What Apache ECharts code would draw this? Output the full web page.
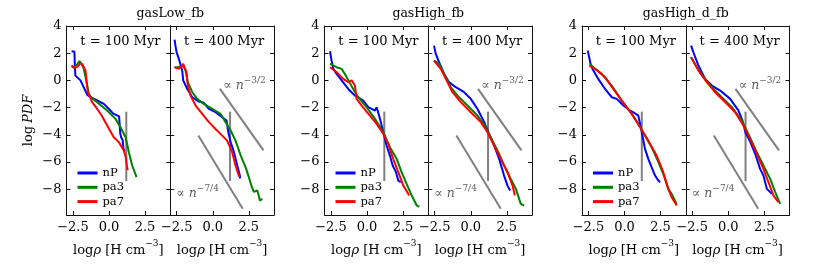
<!DOCTYPE html>
<html><head><meta charset="utf-8">
<script src="https://cdn.jsdelivr.net/npm/echarts@6/dist/echarts.min.js"></script>
<style>html,body{margin:0;padding:0;background:#fff}#c{width:831px;height:269px}</style>
</head><body><div id="c"></div>
<script>
const groupTitles = ['gasLow_fb', 'gasHigh_fb', 'gasHigh_d_fb'];
const panelTimes = ['t = 100 Myr', 't = 400 Myr'];
const seriesNames = ['nP', 'pa3', 'pa7'];
const xTicks = [-2.5, 0, 2.5];
const yTicks = [-8, -6, -4, -2, 0, 2, 4];

// gasLow_fb, t = 100 Myr
const p1_nP = [[-2.6,2.15],[-2.4,2.1],[-2.36,0.8],[-2.33,0.35],[-1.98,0],[-1.51,-1.07],[-1.28,-1.24],[-0.82,-1.48],[-0.36,-1.73],[0.1,-2.22],[0.3,-2.45],[0.7,-2.65],[0.78,-3.9],[0.85,-4.2],[0.95,-4.4],[1.0,-5.0],[1.08,-5.2]];
const p1_pa3 = [[-2.6,1.09],[-2.45,0.9],[-2.33,0.85],[-2.2,1.2],[-2.05,1.41],[-1.9,1.2],[-1.75,0.85],[-1.56,-0.13],[-1.4,-0.99],[-1.2,-1.3],[-0.82,-1.6],[-0.13,-2.22],[0.45,-2.83],[0.8,-3.44],[1.15,-4.18],[1.38,-5.28],[1.61,-6.26],[1.91,-7.12]];
const p1_pa7 = [[-2.6,1.09],[-2.4,0.95],[-2.21,0.97],[-2.0,1.25],[-1.86,1.21],[-1.63,0.72],[-1.47,-0.87],[-1.17,-1.6],[-0.82,-2.1],[-0.5,-2.6],[-0.13,-3.32],[0.33,-4.18],[0.68,-4.54],[1.03,-5.16],[1.15,-5.6],[1.26,-6.4],[1.3,-6.6]];
// gasLow_fb, t = 400 Myr
const p2_nP = [[-2.65,3.0],[-2.58,2.5],[-2.51,2.07],[-2.35,1.58],[-2.12,0.72],[-2.05,0],[-1.77,-0.63],[-1.42,-1.24],[-0.96,-1.56],[-0.62,-1.65],[-0.27,-2.1],[0.19,-2.34],[0.66,-2.71],[0.96,-2.96],[1.08,-3.81],[1.24,-4.54],[1.47,-5.28],[1.7,-6.26],[1.88,-7.0],[1.9,-7.2]];
const p2_pa3 = [[-2.65,0.97],[-2.35,0.97],[-2.24,1.09],[-2.05,1.09],[-1.89,0.72],[-1.73,-0.13],[-1.42,-0.87],[-1.08,-1.36],[-0.62,-1.73],[-0.03,-2.1],[0.54,-2.46],[0.89,-3.07],[1.24,-3.69],[1.58,-4.43],[1.93,-5.5],[2.28,-6.4],[2.5,-7.1],[2.7,-7.8],[2.85,-8.2],[2.97,-8.3],[3.09,-8.1],[3.2,-8.5],[3.27,-8.84],[3.35,-8.8],[3.44,-8.7]];
const p2_pa7 = [[-2.65,0.97],[-2.35,0.85],[-2.2,1.0],[-2.05,1.21],[-1.94,1.21],[-1.82,0.6],[-1.73,-0.38],[-1.54,-1.12],[-1.19,-1.85],[-0.73,-2.46],[-0.27,-3.07],[0.19,-3.57],[0.66,-4.06],[1.0,-4.43],[1.35,-5.28],[1.58,-6.26],[1.81,-7.0],[1.88,-7.1]];
// gasHigh_fb, t = 100 Myr
const p3_nP = [[-2.57,2.14],[-2.46,1.46],[-2.34,0.85],[-2.11,0.48],[-1.76,0],[-1.3,-0.63],[-0.84,-1.12],[-0.61,-1.24],[-0.26,-1.49],[0.09,-1.97],[0.32,-2.1],[0.55,-2.22],[0.67,-1.97],[0.9,-2.83],[1.13,-3.81],[1.36,-4.79],[1.59,-5.53],[1.78,-6.26],[2.01,-6.75],[2.17,-7.37],[2.34,-7.49]];
const p3_pa3 = [[-2.57,1.21],[-2.11,0.97],[-1.76,0.85],[-1.41,0.24],[-0.96,-0.63],[-0.61,-1.24],[-0.03,-1.97],[0.55,-2.83],[1.13,-3.81],[1.59,-4.91],[2.06,-5.77],[2.4,-6.75],[2.75,-7.61],[3.1,-8.47],[3.45,-9.2],[3.63,-9.3]];
const p3_pa7 = [[-2.57,0.97],[-2.11,0.6],[-1.65,0.11],[-1.3,-0.13],[-1.07,0],[-0.84,-0.38],[-0.72,-1.36],[-0.37,-1.85],[0.2,-2.59],[0.67,-3.2],[1.13,-3.93],[1.47,-4.67],[1.82,-5.77],[2.17,-6.75],[2.52,-7.74],[2.93,-8.47]];
// gasHigh_fb, t = 400 Myr
const p4_nP = [[-2.55,2.56],[-2.43,1.95],[-2.2,1.34],[-1.85,0.48],[-1.51,-0.13],[-1.04,-0.5],[-0.46,-0.87],[0.0,-1.36],[0.47,-2.1],[0.93,-3.07],[1.27,-3.93],[1.62,-4.79],[1.97,-5.77],[2.31,-7.0],[2.55,-7.74],[2.73,-8.1]];
const p4_pa3 = [[-2.55,1.46],[-2.2,1.21],[-1.85,0.48],[-1.39,-0.5],[-0.92,-1.12],[-0.23,-1.85],[0.47,-2.59],[1.04,-3.44],[1.51,-4.43],[1.97,-5.4],[2.31,-6.26],[2.78,-7.24],[3.13,-7.98],[3.47,-9.08],[3.7,-9.2]];
const p4_pa7 = [[-2.55,1.46],[-2.08,0.85],[-1.73,0.11],[-1.27,-0.87],[-0.69,-1.6],[0.0,-2.34],[0.7,-3.07],[1.16,-3.81],[1.62,-4.79],[2.08,-5.77],[2.55,-6.75],[2.9,-7.74],[3.06,-8.47]];
// gasHigh_d_fb, t = 100 Myr
const p5_nP = [[-2.55,2.19],[-2.44,2.07],[-2.33,1.09],[-2.16,0.72],[-1.82,0.11],[-1.35,-0.63],[-0.89,-1.24],[-0.54,-1.36],[-0.08,-1.85],[0.38,-2.22],[0.61,-2.34],[0.96,-2.59],[1.2,-3.81],[1.42,-5.04],[1.65,-5.77],[1.88,-6.38],[2.12,-7.0],[2.35,-7.37],[2.47,-7.49]];
const p5_pa3 = [[-2.39,1.21],[-2.16,0.97],[-1.58,0.48],[-0.89,-0.38],[-0.19,-1.49],[0.5,-2.46],[0.96,-3.2],[1.42,-4.06],[1.88,-4.91],[2.35,-6.01],[2.69,-6.88],[3.04,-7.98],[3.27,-8.35],[3.62,-9.08]];
const p5_pa7 = [[-2.44,1.09],[-2.05,0.85],[-1.35,0.24],[-0.78,-0.63],[-0.19,-1.49],[0.5,-2.46],[1.08,-3.44],[1.65,-4.43],[2.23,-5.53],[2.69,-6.75],[3.04,-7.98],[3.27,-8.59],[3.62,-9.2]];
// gasHigh_d_fb, t = 400 Myr
const p6_nP = [[-2.58,2.56],[-2.42,2.07],[-2.07,1.09],[-1.61,0.11],[-1.14,-0.38],[-0.56,-0.75],[0.13,-1.36],[0.7,-2.2],[1.0,-3.0],[1.2,-3.85],[1.52,-4.5],[1.87,-5.4],[2.21,-6.51],[2.44,-7.0],[2.68,-7.98],[2.91,-8.22],[3.03,-8.35]];
const p6_pa3 = [[-2.58,1.71],[-2.18,0.97],[-1.72,0.24],[-1.14,-0.5],[-0.45,-1.24],[0.25,-1.97],[0.94,-2.96],[1.4,-3.93],[1.87,-5.04],[2.44,-6.26],[2.91,-7.24],[3.26,-8.22],[3.6,-9.08]];
const p6_pa7 = [[-2.58,1.71],[-2.07,0.72],[-1.49,-0.13],[-0.91,-0.87],[-0.22,-1.6],[0.48,-2.34],[1.05,-3.32],[1.52,-4.3],[1.98,-5.4],[2.44,-6.51],[2.79,-7.49],[3.14,-8.47],[3.48,-8.96]];

// reference guide lines
const refVertX = [1.2, 1.2];
const refVertY = [-2.3, -7.4];
const slope32X = [0.5, 3.52];
const slope32Y = [-0.62, -5.15];
const slope74X = [-1.0, 2.08];
const slope74Y = [-4.05, -9.44];
const annotX = [2.2, -1.05];
const annotY = [-0.3, -8.2];
const annotText = ['{a|\u221D }{i|n}{s|\u22123/2}', '{a|\u221D }{i|n}{s|\u22127/4}'];

const panels = [[p1_nP,p1_pa3,p1_pa7],[p2_nP,p2_pa3,p2_pa7],[p3_nP,p3_pa3,p3_pa7],[p4_nP,p4_pa3,p4_pa7],[p5_nP,p5_pa3,p5_pa7],[p6_nP,p6_pa3,p6_pa7]];
const colors = ['#0000ff', '#008000', '#ff0000'];
const FONT = 'DejaVu Serif';
const groupLeft = [66.5, 324.5, 582];
const panelW = 103.75, gTop = 26, gH = 189;
const xMin = -2.95, xMax = 4.25, yMin = -9.9, yMax = 4;
const zip = (a, b) => a.map((v, k) => [v, b[k]]);

const grid = [], xAxis = [], yAxis = [], series = [], title = [], legend = [];
const axLine = {show: true, onZero: false, lineStyle: {color: '#111', width: 1}};
const xNameRich = {
  n: {fontFamily: FONT, fontSize: 13, color: '#000', lineHeight: 18, verticalAlign: 'bottom'},
  i: {fontFamily: FONT, fontSize: 13, fontStyle: 'italic', color: '#000', lineHeight: 18, verticalAlign: 'bottom'},
  s: {fontFamily: FONT, fontSize: 9, color: '#000', lineHeight: 9, verticalAlign: 'top'}
};
for (let g = 0; g < 3; g++) {
  title.push({text: groupTitles[g], left: groupLeft[g] + panelW, top: 7, textAlign: 'center', padding: 0,
    textStyle: {fontFamily: FONT, fontSize: 12.5, fontWeight: 'normal', color: '#000'}});
  legend.push({data: seriesNames, left: groupLeft[g] + 11, top: 167, orient: 'vertical', icon: 'rect',
    itemWidth: 20, itemHeight: 3, itemGap: 2.3, padding: 0, selectedMode: false,
    textStyle: {fontFamily: FONT, fontSize: 11.5, color: '#000', lineHeight: 12}});
  for (let p = 0; p < 2; p++) {
    const i = g * 2 + p;
    const left = groupLeft[g] + p * panelW;
    grid.push({left: left, top: gTop, width: panelW, height: gH});
    title.push({text: panelTimes[p], left: left + panelW / 2 + 2, top: 35, textAlign: 'center', padding: 0,
      textStyle: {fontFamily: FONT, fontSize: 13, fontWeight: 'normal', color: '#000'}});
    const tick = (vals) => ({show: true, inside: true, length: 4, customValues: vals, lineStyle: {color: '#111', width: 1}});
    xAxis.push({type: 'value', gridIndex: i, position: 'bottom', min: xMin, max: xMax,
      splitLine: {show: false}, axisLine: axLine, axisTick: tick(xTicks),
      axisLabel: {customValues: xTicks, margin: 6, fontFamily: FONT, fontSize: 13, color: '#000',
        formatter: v => (v < 0 ? '\u2212' : '') + Math.abs(v).toFixed(1)},
      name: '{n|log}{i|\u03C1}{n| [H cm}{s|\u22123}{n|]}', nameLocation: 'middle', nameGap: 24,
      nameTextStyle: {rich: xNameRich}});
    xAxis.push({type: 'value', gridIndex: i, position: 'top', min: xMin, max: xMax,
      splitLine: {show: false}, axisLine: axLine, axisTick: tick(xTicks), axisLabel: {show: false}});
    const yl = {type: 'value', gridIndex: i, position: 'left', min: yMin, max: yMax,
      splitLine: {show: false}, axisLine: axLine, axisTick: tick(yTicks),
      axisLabel: {show: p === 0, customValues: yTicks, margin: 5, fontFamily: FONT, fontSize: 13, color: '#000',
        formatter: v => (v < 0 ? '\u2212' : '') + Math.abs(v)}};
    if (i === 0) {
      yl.name = '{n|log}{i|PDF}';
      yl.nameLocation = 'middle';
      yl.nameRotate = 90;
      yl.nameGap = 31;
      yl.nameTextStyle = {rich: {
        n: {fontFamily: FONT, fontSize: 13, color: '#000'},
        i: {fontFamily: FONT, fontSize: 13, fontStyle: 'italic', color: '#000', padding: [0, 0, 0, 3]}}};
    }
    yAxis.push(yl);
    yAxis.push({type: 'value', gridIndex: i, position: 'right', min: yMin, max: yMax,
      splitLine: {show: false}, axisLine: axLine, axisTick: tick(yTicks), axisLabel: {show: false}});

    const ax = {xAxisIndex: 2 * i, yAxisIndex: 2 * i};
    const gray = {type: 'line', ...ax, showSymbol: false, silent: true, z: 1,
      lineStyle: {color: '#808080', width: 2}, itemStyle: {color: '#808080'}};
    series.push({...gray, data: zip(refVertX, refVertY)});
    if (p === 1) {
      series.push({...gray, data: zip(slope32X, slope32Y)});
      series.push({...gray, data: zip(slope74X, slope74Y)});
      annotText.forEach((t, k) => {
        series.push({type: 'scatter', ...ax, symbolSize: 0, silent: true, data: [[annotX[k], annotY[k]]],
          label: {show: true, position: 'inside', formatter: t, rich: {
            a: {fontFamily: FONT, fontSize: 12.5, color: '#333', lineHeight: 16, verticalAlign: 'bottom'},
            i: {fontFamily: FONT, fontSize: 12.5, fontStyle: 'italic', color: '#333', lineHeight: 16, verticalAlign: 'bottom'},
            s: {fontFamily: FONT, fontSize: 9, color: '#333', lineHeight: 9, verticalAlign: 'top'}}}});
      });
    }
    seriesNames.forEach((nm, k) => {
      series.push({type: 'line', name: nm, ...ax, data: panels[i][k], showSymbol: false, z: 3 + k,
        lineStyle: {color: colors[k], width: 2}, itemStyle: {color: colors[k]}});
    });
  }
}

const chart = echarts.init(document.getElementById('c'), null, {renderer: 'canvas'});
chart.setOption({animation: false, backgroundColor: '#fff', title, legend, grid, xAxis, yAxis, series});
</script></body></html>
